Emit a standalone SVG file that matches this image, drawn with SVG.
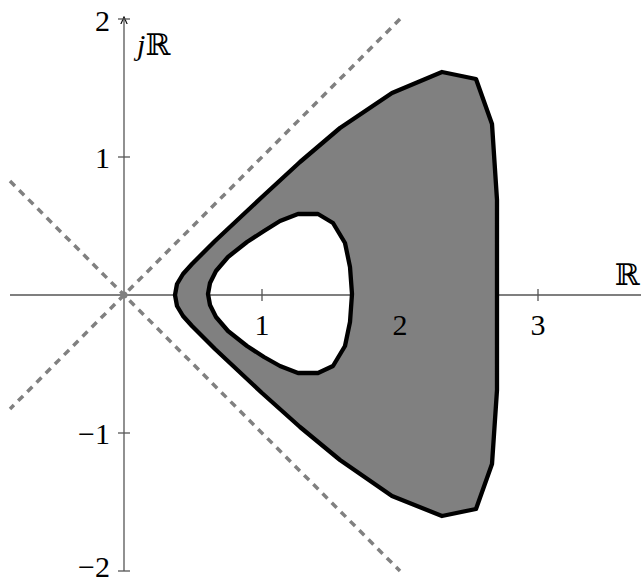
<svg xmlns="http://www.w3.org/2000/svg" width="641" height="581" viewBox="0 0 641 581">
<style>
.ax{stroke:#555;stroke-width:1.3;fill:none}
.dash{stroke:#808080;stroke-width:3.5;stroke-dasharray:7,6;fill:none}
.lbl{font-family:"Liberation Serif","DejaVu Serif",serif;font-size:30px;fill:#000}
</style>
<defs>
<marker id="arr" viewBox="0 0 10 10" refX="9" refY="5" markerWidth="8" markerHeight="8" orient="auto" markerUnits="userSpaceOnUse">
<path d="M0,1 L9,5 L0,9" fill="none" stroke="#111" stroke-width="1.5"/>
</marker>
</defs>
<g id="axes">
<line class="ax" x1="10" y1="295" x2="641" y2="295"/>
<line class="ax" x1="124" y1="571" x2="124" y2="17" marker-end="url(#arr)"/>
<line class="ax" x1="262" y1="289" x2="262" y2="301"/>
<line class="ax" x1="400" y1="289" x2="400" y2="301"/>
<line class="ax" x1="538" y1="289" x2="538" y2="301"/>
<line class="ax" x1="118" y1="19" x2="130" y2="19"/>
<line class="ax" x1="118" y1="157" x2="130" y2="157"/>
<line class="ax" x1="118" y1="433" x2="130" y2="433"/>
<line class="ax" x1="118" y1="571" x2="130" y2="571"/>
</g>
<g id="asymptotes">
<line class="dash" x1="400" y1="19" x2="10" y2="409"/>
<line class="dash" x1="10" y1="181" x2="400" y2="571"/>
<circle cx="124" cy="295" r="3.5" fill="#808080"/>
</g>
<g id="region">
<path fill="#808080" fill-rule="evenodd" stroke="#000" stroke-width="4.3" stroke-linejoin="round"
d="M175,295 L177,284 L183,274 L192,264 L215,241 L262,197 L300,162 L340,128 L392,93 L442,72 L476,79 L492,124 L497,200 L497,390 L492,464 L476,509 L442,516 L392,496 L340,460 L300,427 L262,393 L215,349 L192,326 L183,316 L177,306 Z
M208,294 L210,283 L216,271 L228,257 L247,242 L264,231 L280,221 L298,214 L318,214 L333,223 L345,243 L350,267 L352,294 L350,322 L345,346 L333,366 L318,373 L298,373 L280,366 L264,357 L247,346 L228,331 L216,317 L210,305 Z"/>
</g>
<g id="labels">
<text class="lbl" x="110" y="31" text-anchor="end">2</text>
<text class="lbl" x="110" y="168" text-anchor="end">1</text>
<text class="lbl" x="110" y="444" text-anchor="end">−1</text>
<text class="lbl" x="110" y="577" text-anchor="end">−2</text>
<text class="lbl" x="262" y="335" text-anchor="middle">1</text>
<text class="lbl" x="400" y="335" text-anchor="middle">2</text>
<text class="lbl" x="538" y="335" text-anchor="middle">3</text>
<text class="lbl" x="627" y="285" text-anchor="middle">ℝ</text>
<text class="lbl" x="137" y="55"><tspan font-style="italic">j</tspan>ℝ</text>
</g>
</svg>
